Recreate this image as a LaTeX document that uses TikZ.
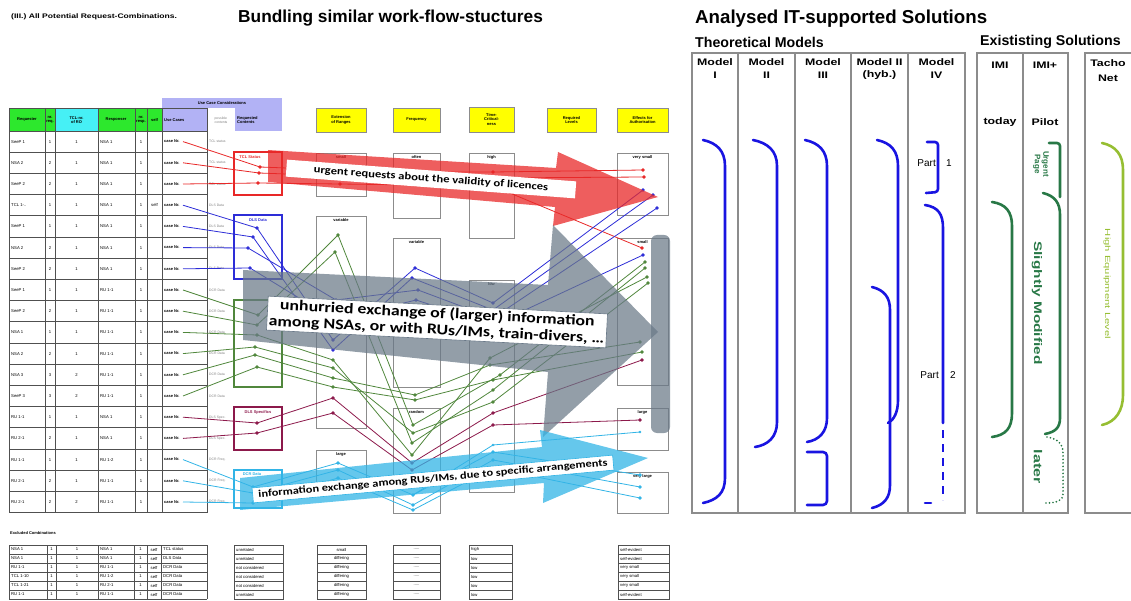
\documentclass[tikz,border=0pt]{standalone}
\usepackage{fontspec}
\setmainfont{Liberation Sans}
\newfontfamily\calfont[FakeStretch=1.2]{Carlito}
\newfontfamily\hdfont[FakeStretch=1.3]{Liberation Sans}
\newfontfamily\rotfont[FakeStretch=1.5]{Liberation Sans}
\newfontfamily\rotbfont[FakeStretch=1.4]{Liberation Sans}
\usetikzlibrary{calc}
\definecolor{hgreen}{RGB}{45,232,45}
\definecolor{hcyan}{RGB}{70,240,245}
\definecolor{hlav}{RGB}{178,178,245}
\definecolor{hyel}{RGB}{255,255,0}
\definecolor{gridc}{RGB}{80,80,80}
\definecolor{frame}{RGB}{140,140,140}
\definecolor{lred}{RGB}{232,40,40}
\definecolor{lblue}{RGB}{45,45,215}
\definecolor{lgreen}{RGB}{80,135,60}
\definecolor{lpurp}{RGB}{140,25,75}
\definecolor{lcyan}{RGB}{50,180,230}
\definecolor{arrgray}{RGB}{105,120,135}
\definecolor{brblue}{RGB}{25,20,225}
\definecolor{brgreen}{RGB}{40,120,70}
\definecolor{bryel}{RGB}{150,190,50}
\newcommand\mywire[2]{\draw[#1, line width=0.8pt, mark=*, mark size=1.3pt, mark indices={2,3,4,5,6}] plot coordinates {#2};}
\newcommand\fivedots{.....}
\newcommand\twodots{..}
\begin{document}
\begin{tikzpicture}[x=1pt,y=-1pt,
  tiny/.style={font=\fontsize{4.2}{4.6}\selectfont, inner sep=0pt},
  tinyb/.style={font=\bfseries\fontsize{4}{4.4}\selectfont, inner sep=0pt, align=center},
  gridl/.style={draw=gridc, line width=0.9pt},
  cbox/.style={draw=frame, line width=0.9pt},
  yhead/.style={fill=hyel, draw=frame, line width=0.9pt},
  gbox/.style={line width=1.5pt},
  mframe/.style={draw=frame, line width=1.3pt},
  br/.style={line width=2.6pt, line cap=round},
  hd/.style={font=\hdfont\bfseries\fontsize{9.5}{10}\selectfont, inner sep=0pt},
  ttl/.style={font=\bfseries\fontsize{18.7}{20}\selectfont, inner sep=0pt, anchor=west},
  sttl/.style={font=\bfseries\fontsize{14.2}{15}\selectfont, inner sep=0pt, anchor=west},
  atext/.style={font=\calfont\bfseries\fontsize{10.5}{12}\selectfont, fill=white, inner sep=1pt}
]
\useasboundingbox (0,0) rectangle (1131,601);

% ---------- titles ----------
\node[font=\hdfont\bfseries\fontsize{6.6}{7}\selectfont, inner sep=0pt, anchor=west] (t0) at (11,17) {(III.) All Potential Request-Combinations.};
\node[ttl, font=\bfseries\fontsize{17.3}{20}\selectfont] (t1) at (238,18) {Bundling similar work-flow-stuctures};
\node[ttl] (t2) at (695,19) {Analysed IT-supported Solutions};
\node[sttl] (t3) at (695,42) {Theoretical Models};
\node[sttl] (t4) at (980,42) {Exististing Solutions};

% ---------- left table header ----------
\fill[hlav] (162,98) rectangle (282,108);
\node[tinyb] (uc) at (222,103) {Use Case Considerations};
\fill[hgreen] (9,108) rectangle (55,131);
\fill[hcyan] (55,108) rectangle (98,131);
\fill[hgreen] (98,108) rectangle (162,131);
\fill[hlav] (162,108) rectangle (207,131);
\fill[hlav] (235,108) rectangle (282,131);
\node[tinyb] (h1) at (27,120) {Requester};
\node[tinyb] (h2) at (50,120) {nr.\\req.};
\node[tinyb] (h3) at (76.5,120) {TCL-nr.\\of RO};
\node[tinyb] (h4) at (116,120) {Responser};
\node[tinyb] (h5) at (141,120) {nr.\\resp.};
\node[tinyb] (h6) at (154.5,120) {self};
\node[tinyb, anchor=west] (h7) at (164,120) {Use Cases};
\node[tiny, text=gray, align=left, font=\fontsize{3.4}{3.8}\selectfont] (h8) at (221,120) {possible\\contents};
\node[tinyb, anchor=west, align=left] (h9) at (237,120) {Requested\\Contents};

% grid
\foreach \x in {9,45,55,98,135,147,162,207} \draw[gridl] (\x,108) -- (\x,512.6);
\foreach \i in {0,...,18} \draw[gridl] (9,{131+21.2*\i}) -- (207,{131+21.2*\i});
\draw[gridl] (9,108) -- (207,108);

\foreach \qa/\qb/\qc/\qd/\qe [count=\qn] in {SeeP 1/1/1/NSA 1/TCL status, NSA 2/2/1/NSA 1/TCL status, SeeP 2/2/1/NSA 1/TCL status, TCL 1-\twodots/1/1/NSA 1/DLS Data, SeeP 1/1/1/NSA 1/DLS Data, NSA 2/2/1/NSA 1/DLS Data, SeeP 2/2/1/NSA 1/DLS Data, SeeP 1/1/1/RU 1-1/DCR Data, SeeP 2/2/1/RU 1-1/DCR Data, NSA 1/1/1/RU 1-1/DCR Data, NSA 2/2/1/RU 1-1/DCR Data, NSA 3/3/2/RU 1-1/DCR Data, SeeP 3/3/2/RU 1-1/DCR Data, RU 1-1/1/1/NSA 1/DLS Spec., RU 2-1/2/1/NSA 1/DLS Spec., RU 1-1/1/1/RU 1-2/DCR Freq., RU 2-1/2/1/RU 1-1/DCR Freq., RU 2-1/2/2/RU 1-1/DCR Freq.}{
  \pgfmathsetmacro\yy{131+21.2*(\qn-0.5)}
  \node[tiny, anchor=west] at (11,\yy) {\qa};
  \node[tiny] at (50,\yy) {\qb};
  \node[tiny] at (76.5,\yy) {\qc};
  \node[tiny, anchor=west] at (100,\yy) {\qd};
  \node[tiny] at (141,\yy) {1};
  \node[tinyb, anchor=west] at (164,\yy) {case Nr.};
  \node[tiny, anchor=west, text=gray, font=\fontsize{3.4}{3.8}\selectfont] at (209,\yy) {\qe};
}
\node[tiny] (self4) at (154.5,205.2) {self};

% ---------- group boxes ----------
\draw[gbox, lred] (234,152) rectangle (282,195);
\node[tinyb, text=lred] (gr) at (250,157) {TCL Status};
\draw[gbox, lblue] (234,215) rectangle (282,279);
\node[tinyb, text=lblue] (gb) at (258,220) {DLS Data};
\draw[gbox, lgreen] (234,300) rectangle (282,387);
\draw[gbox, lpurp] (234,407) rectangle (282,450);
\node[tinyb, text=lpurp] (gp) at (258,412) {DLS Specifics};
\draw[gbox, lcyan] (234,470) rectangle (282,508);
\node[tinyb, text=lcyan] (gc) at (252,474) {DCR Data};

% ---------- yellow headers ----------
\node[yhead, minimum width=50pt, minimum height=24pt, tinyb] (ya) at (341,120) {Extension\\of Ranges};
\node[yhead, minimum width=47pt, minimum height=24pt, tinyb] (yb) at (416.5,120) {Frequency};
\node[yhead, minimum width=45pt, minimum height=25pt, tinyb] (yc) at (491.5,119.5) {Time-\\Critical-\\ness};
\node[yhead, minimum width=49pt, minimum height=24pt, tinyb] (yd) at (571.5,120) {Required\\Levels};
\node[yhead, minimum width=51pt, minimum height=24pt, tinyb] (ye) at (642.5,120) {Effects for\\Authorisation};

% ---------- column boxes ----------
\foreach \xa/\xb/\ya/\yb/\lab in {316/366/153/196/small, 316/366/216/428/variable, 316/366/450/492/large,
  393/440/153/218/often, 393/440/238/387/variable, 393/440/408/513/random,
  469/514/153/238/high, 469/514/280/492/low,
  617/668/153/215/very small, 617/668/238/385/small, 617/668/408/450/large, 617/668/472/513/very large}{
  \draw[cbox] (\xa,\ya) rectangle (\xb,\yb);
  \node[tinyb] at ({(\xa+\xb)/2},{\ya+4}) {\lab};
}

% ---------- wires ----------
\mywire{lred}{(183,141.6) (260,167) (340,170) (415,172) (493,172) (643,170)}
\mywire{lred}{(183,162.8) (259,173) (340,176) (415,178) (493,178) (644,177)}
\mywire{lred}{(183,184) (258,183) (340,184) (415,185) (493,186) (642,248)}
\mywire{lblue}{(183,205.2) (257,228) (333,340) (415,268) (493,303) (643,190)}
\mywire{lblue}{(183,226.4) (253,237) (333,350) (412,278) (493,310) (653,195)}
\mywire{lblue}{(183,247.6) (248,248) (336,300) (418,290) (493,318) (657,208)}
\mywire{lblue}{(183,268.8) (250,268) (335,320) (416,300) (493,325) (643,255)}
\mywire{lgreen}{(183,290) (258,315) (338,235) (413,425) (500,375) (645,262)}
\mywire{lgreen}{(183,311.2) (257,325) (335,252) (412,443) (493,390) (645,268)}
\mywire{lgreen}{(183,332.4) (257,335) (333,360) (412,455) (490,358) (647,277)}
\mywire{lgreen}{(183,353.6) (255,347) (333,368) (413,433) (493,402) (648,283)}
\mywire{lgreen}{(183,374.8) (255,355) (333,378) (415,395) (490,365) (640,342)}
\mywire{lgreen}{(183,396) (257,367) (333,387) (415,400) (493,380) (642,352)}
\mywire{lpurp}{(183,417.2) (257,423) (333,398) (412,463) (493,413) (642,360)}
\mywire{lpurp}{(183,438.4) (257,433) (333,413) (412,470) (493,425) (640,420)}
\mywire{lcyan}{(183,459.6) (253,487) (338,463) (413,495) (493,452) (640,475)}
\mywire{lcyan}{(183,480.8) (253,493) (338,470) (413,505) (493,460) (640,487)}
\mywire{lcyan}{(183,502) (253,503) (338,478) (413,510) (493,468) (640,498)}
\draw[lcyan, line width=0.8pt] (413,495) -- (493,445) -- (640,432);
\fill[lcyan] (493,445) circle (1.3pt) (640,432) circle (1.3pt);

% ---------- big arrows ----------
\fill[lred, fill opacity=0.75] (268,150) -- (556,168) -- (558,152) -- (658,197) -- (553,226) -- (555,207) -- (268,182) -- cycle;
\node[atext, rotate=-4.3, minimum width=290pt, minimum height=17pt] (urg) at (431,179) {urgent requests about the validity of licences};

\fill[arrgray, fill opacity=0.72] (243,270) -- (548,285) -- (553,225) -- (658,332) -- (543,437) -- (548,372) -- (243,340) -- cycle;
\fill[arrgray, fill opacity=0.72, rounded corners=6pt] (651,235) rectangle (670,433);
\node[atext, font=\calfont\bfseries\fontsize{14.8}{16.5}\selectfont, rotate=-3, align=center, draw=arrgray, line width=0.6pt, inner sep=2pt] (unh) at (437,322) {unhurried exchange of (larger) information\\among NSAs, or with RUs/IMs, train-divers, \dots};

\fill[lcyan, fill opacity=0.75] (240,478) -- (542,447) -- (540,430) -- (648,458) -- (543,503) -- (544,483) -- (240,510) -- cycle;
\node[atext, font=\calfont\bfseries\fontsize{10.3}{12}\selectfont, rotate=5.2, draw=lcyan, line width=0.6pt, minimum width=362pt, minimum height=15pt] (inf) at (433,479) {information exchange among RUs/IMs, due to specific arrangements};

% ---------- excluded combinations ----------
\node[tinyb, anchor=west] (exc) at (10,533) {Excluded Combinations};
\foreach \x in {9,47,56,98,134,147,161,207} \draw[gridl] (\x,545) -- (\x,599);
\foreach \i in {0,...,6} \draw[gridl] (9,{545+9*\i}) -- (207,{545+9*\i});
\foreach \xa/\xb in {234/283, 317/366, 393/440, 469/512, 618/669}{
  \foreach \i in {0,...,5} \draw[gridl] (\xa,{545+9*\i}) rectangle (\xb,{554+9*\i});
}
\foreach \qa/\qb/\qc/\qd/\qe/\qf/\qg/\qh [count=\qn] in {NSA 1/NSA 1/TCL status/unrelated/small/\fivedots/high/self-evident,
  NSA 1/NSA 1/DLS Data/unrelated/differing/\fivedots/low/self-evident,
  RU 1-1/RU 1-1/DCR Data/not considered/differing/\fivedots/low/very small,
  TCL 1-10/RU 1-2/DCR Data/not considered/differing/\fivedots/low/very small,
  TCL 1-21/RU 2-1/DCR Data/not considered/differing/\fivedots/low/very small,
  RU 1-1/RU 1-1/DCR Data/unrelated/differing/\fivedots/low/self-evident}{
  \pgfmathsetmacro\yy{545+9*(\qn-0.5)}
  \node[tiny, anchor=west] at (11,\yy) {\qa};
  \node[tiny] at (51.5,\yy) {1};
  \node[tiny] at (77,\yy) {1};
  \node[tiny, anchor=west] at (100,\yy) {\qb};
  \node[tiny] at (140.5,\yy) {1};
  \node[tiny] at (154,\yy) {self};
  \node[tiny, anchor=west] at (163,\yy) {\qc};
  \node[tiny, anchor=west] at (236,\yy) {\qd};
  \node[tiny] at (341.5,\yy) {\qe};
  \node[tiny] at (416.5,\yy) {\qf};
  \node[tiny, anchor=west] at (471,\yy) {\qg};
  \node[tiny, anchor=west] at (620,\yy) {\qh};
}

% ---------- right panel frames ----------
\draw[mframe] (692,53) rectangle (965,513);
\foreach \x in {738,795,851,908} \draw[mframe] (\x,53) -- (\x,513);
\draw[mframe] (977,53) rectangle (1068,513);
\draw[mframe] (1023,53) -- (1023,513);
\draw[mframe] (1140,53) -- (1085,53) -- (1085,513) -- (1140,513);

\node[hd] (m1a) at (715,62) {Model};   \node[hd] (m1b) at (715,75) {I};
\node[hd] (m2a) at (766.5,62) {Model}; \node[hd] (m2b) at (766.5,75) {II};
\node[hd] (m3a) at (823,62) {Model};   \node[hd] (m3b) at (823,75) {III};
\node[hd] (m4a) at (879.5,62) {Model II}; \node[hd] (m4b) at (879.5,75) {(hyb.)};
\node[hd] (m5a) at (936.5,62) {Model}; \node[hd] (m5b) at (936.5,75) {IV};
\node[hd] (e1) at (1000,65) {IMI};
\node[hd] (e2) at (1045,65) {IMI+};
\node[hd] (e3) at (1000,122) {today};
\node[hd] (e4) at (1045,122) {Pilot};
\node[hd] (e5) at (1108,63) {Tacho};
\node[hd] (e6) at (1108,78) {Net};

% blue brackets
\draw[br, brblue] (703,140) .. controls (717,143) and (725,151) .. (725,166) -- (725,478) .. controls (725,493) and (717,500) .. (703,503);
\draw[br, brblue] (753,140) .. controls (768,143) and (777,151) .. (777,166) -- (777,422) .. controls (777,437) and (768,445) .. (755,447);
\draw[br, brblue] (805,140) .. controls (819,143) and (827,151) .. (827,166) -- (827,418) .. controls (827,432) and (819,440) .. (807,442);
\draw[br, brblue, rounded corners=4pt] (807,452) -- (827,452) -- (827,505) -- (807,505);
\draw[br, brblue] (877,140) .. controls (891,143) and (898,151) .. (898,166) -- (898,400) .. controls (898,412) and (894,420) .. (888,423);
\draw[br, brblue] (872,287) .. controls (884,290) and (890,297) .. (890,310) -- (890,485) .. controls (890,498) and (884,505) .. (872,508);
\draw[br, brblue, rounded corners=3pt] (927,142) -- (938,142) -- (938,192) -- (926,193);
\draw[br, brblue] (925,205) .. controls (938,207) and (943,214) .. (943,228) -- (943,423);
\draw[br, brblue, line cap=butt, dash pattern=on 8pt off 6pt] (943,430) -- (943,500);
\draw[br, brblue] (925,503) -- (931,503);
\node[font=\fontsize{10}{11}\selectfont, inner sep=0pt, anchor=east] (p1a) at (936,163) {Part};
\node[font=\fontsize{10}{11}\selectfont, inner sep=0pt] (p1b) at (949,163) {1};
\node[font=\fontsize{10}{11}\selectfont, inner sep=0pt, anchor=east] (p2a) at (939,375) {Part};
\node[font=\fontsize{10}{11}\selectfont, inner sep=0pt] (p2b) at (953,375) {2};

% green brackets
\draw[br, brgreen] (992,202) .. controls (1006,204) and (1012,212) .. (1012,226) -- (1012,413) .. controls (1012,428) and (1006,435) .. (992,437);
\draw[br, brgreen, rounded corners=3pt] (1049,143) -- (1060,143) -- (1060,197);
\draw[br, brgreen] (1043,193) .. controls (1055,196) and (1060,203) .. (1060,215) -- (1060,418) .. controls (1060,428) and (1055,432) .. (1045,434);
\draw[brgreen, line width=1.9pt, line cap=round, dash pattern=on 0pt off 3.5pt] (1047,437) .. controls (1058,439) and (1063,444) .. (1063,453) -- (1063,494) .. controls (1063,500) and (1058,503) .. (1045,503);
\node[rotate=-90, font=\bfseries\fontsize{8}{8.5}\selectfont, text=brgreen, align=center, inner sep=0pt] (urgp) at (1041,164) {Urgent\\Page};
\node[rotate=-90, font=\rotbfont\bfseries\fontsize{11}{12}\selectfont, text=brgreen, inner sep=0pt] (slm) at (1037,303) {Slightly Modified};
\node[rotate=-90, font=\rotbfont\bfseries\fontsize{11.5}{12}\selectfont, text=brgreen, inner sep=0pt] (lat) at (1038,467) {later};

% tacho
\draw[br, bryel] (1102,143) .. controls (1116,146) and (1123,155) .. (1123,170) -- (1123,395) .. controls (1123,410) and (1116,422) .. (1102,425);
\node[rotate=-90, font=\rotfont\fontsize{7.5}{8}\selectfont, text=bryel, inner sep=0pt] (hel) at (1107,284) {High Equipment Level};
\end{tikzpicture}
\end{document}
